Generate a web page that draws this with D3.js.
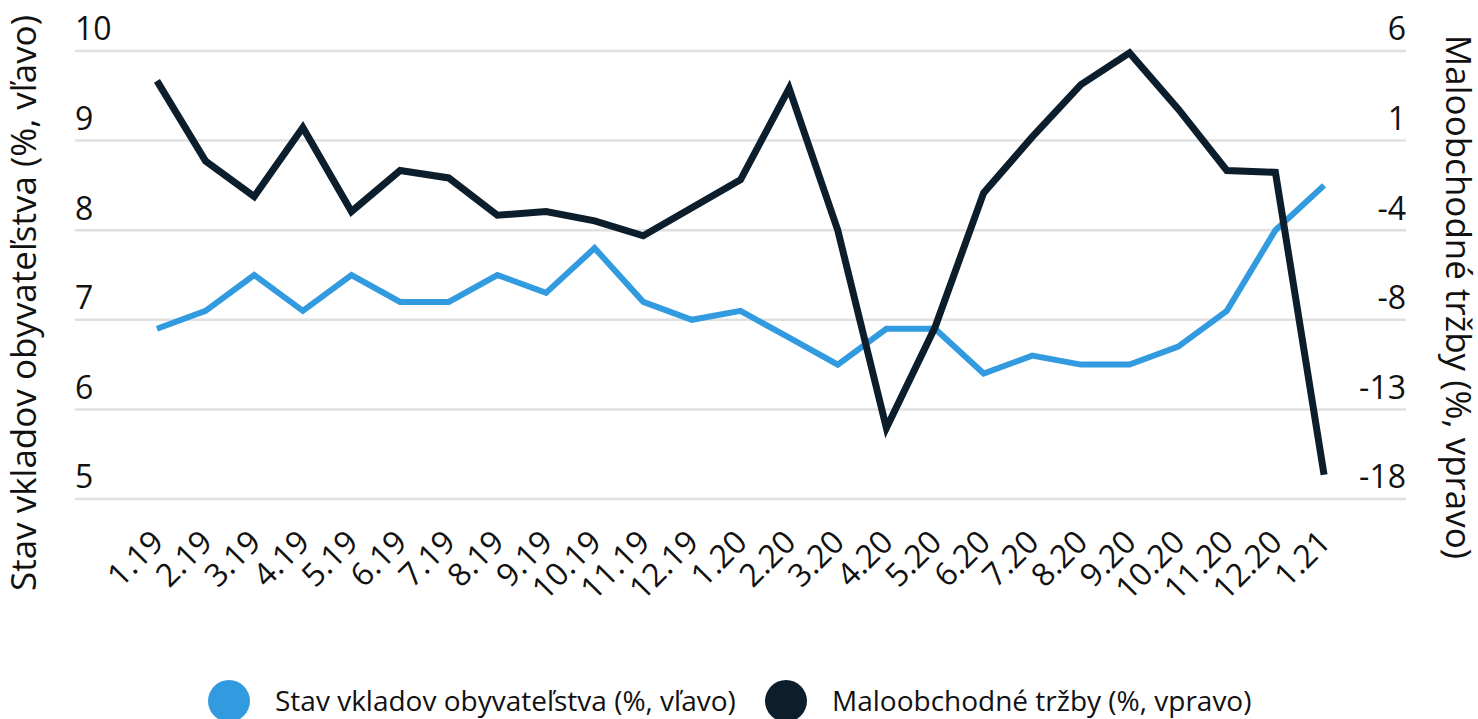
<!DOCTYPE html>
<html>
<head>
<meta charset="utf-8">
<script src="https://cdn.jsdelivr.net/npm/d3@7"></script>
<style>
  body { margin: 0; background: #fff; }
  text { font-family: "Open Sans", "Noto Sans", sans-serif; fill: #111; }
</style>
</head>
<body>
<svg id="chart" width="1478" height="719"></svg>
<script>
var months = ["1.19","2.19","3.19","4.19","5.19","6.19","7.19","8.19","9.19","10.19","11.19","12.19",
              "1.20","2.20","3.20","4.20","5.20","6.20","7.20","8.20","9.20","10.20","11.20","12.20","1.21"];
// Stav vkladov obyvatelstva (left axis)
var deposits = [6.9,7.1,7.5,7.1,7.5,7.2,7.2,7.5,7.3,7.8,7.2,7.0,
                7.1,6.8,6.5,6.9,6.9,6.4,6.6,6.5,6.5,6.7,7.1,8.0,8.5];
// Maloobchodne trzby (right axis)
var retail = [4.4,0.1,-1.8,1.9,-2.6,-0.4,-0.8,-2.8,-2.6,-3.1,-3.9,-2.4,
              -0.9,4.0,-3.6,-14.2,-8.8,-1.6,1.4,4.2,5.9,2.9,-0.4,-0.5,-16.7];
var leftTicks = [5, 6, 7, 8, 9, 10];
var leftDomain = [5, 10];
var rightDomain = [-18, 6];
var seriesNames = ["Stav vkladov obyvateľstva (%, vľavo)", "Maloobchodné tržby (%, vpravo)"];
var colors = ["#329bdf", "#0c1d2b"];

window.onload = function () {
    drawChart();
};

function drawChart() {
    var svg = d3.select("#chart"),
        plotLeft = 75, plotRight = 1406, plotTop = 51, plotBottom = 499;

    var x = d3.scalePoint()
        .domain(months)
        .range([plotLeft, plotRight])
        .padding(1.685);

    var yL = d3.scaleLinear().domain(leftDomain).range([plotBottom, plotTop]);
    var yR = d3.scaleLinear().domain(rightDomain).range([plotBottom, plotTop]);

    // gridlines
    svg.append("g")
        .selectAll("line")
        .data(leftTicks)
        .enter().append("line")
        .attr("x1", plotLeft)
        .attr("x2", plotRight)
        .attr("y1", function(d) { return yL(d); })
        .attr("y2", function(d) { return yL(d); })
        .attr("stroke", "#e0e0e0")
        .attr("stroke-width", 2.5);

    // left axis labels (sit above the gridline)
    var gl = svg.append("g")
        .attr("transform", "translate(" + plotLeft + ",0)")
        .call(d3.axisLeft(yL).tickValues(leftTicks).tickSize(0).tickFormat(d3.format("d")));
    gl.select(".domain").remove();
    gl.selectAll("text")
        .attr("x", 0)
        .attr("dy", "-0.35em")
        .attr("text-anchor", "start")
        .attr("font-size", 32)
        .attr("fill", "#111");

    // right axis labels: values at the same gridlines, plain hyphen for minus
    var rightTicks = leftTicks.map(function(t) { return yR.invert(yL(t)); });
    var gr = svg.append("g")
        .attr("transform", "translate(" + plotRight + ",0)")
        .call(d3.axisRight(yR).tickValues(rightTicks).tickSize(0)
            .tickFormat(function(d) { return String(Math.round(d)); }));
    gr.select(".domain").remove();
    gr.selectAll("text")
        .attr("x", 0)
        .attr("dy", "-0.35em")
        .attr("text-anchor", "end")
        .attr("font-size", 32)
        .attr("fill", "#111");

    // x axis
    var gx = svg.append("g")
        .attr("transform", "translate(0," + plotBottom + ")")
        .call(d3.axisBottom(x).tickSize(0));
    gx.select(".domain").remove();
    gx.selectAll("text")
        .attr("font-size", 32)
        .attr("fill", "#111")
        .attr("text-anchor", "end")
        .attr("y", 0)
        .attr("dy", 0)
        .attr("transform", "translate(8,45) rotate(-45)");

    // lines
    var lineL = d3.line()
        .x(function(d, i) { return x(months[i]); })
        .y(function(d) { return yL(d); });
    var lineR = d3.line()
        .x(function(d, i) { return x(months[i]); })
        .y(function(d) { return yR(d); });

    svg.append("path")
        .datum(deposits)
        .attr("fill", "none")
        .attr("stroke", colors[0])
        .attr("stroke-width", 6)
        .attr("stroke-linejoin", "miter")
        .attr("d", lineL);

    svg.append("path")
        .datum(retail)
        .attr("fill", "none")
        .attr("stroke", colors[1])
        .attr("stroke-width", 7)
        .attr("stroke-linejoin", "miter")
        .attr("d", lineR);

    // axis titles
    svg.append("text")
        .attr("transform", "translate(36,303) rotate(-90)")
        .attr("text-anchor", "middle")
        .attr("font-size", 35)
        .text(seriesNames[0]);

    svg.append("text")
        .attr("transform", "translate(1446,297) rotate(90)")
        .attr("text-anchor", "middle")
        .attr("font-size", 35)
        .text(seriesNames[1]);

    // legend
    var legendPos = [229, 786];
    var legend = svg.append("g")
        .selectAll("g")
        .data(seriesNames)
        .enter().append("g")
        .attr("transform", function(d, i) { return "translate(" + legendPos[i] + ",701)"; });

    legend.append("circle")
        .attr("r", 21)
        .attr("fill", function(d, i) { return colors[i]; });

    legend.append("text")
        .attr("x", 46)
        .attr("y", 10)
        .attr("font-size", 28)
        .text(function(d) { return d; });
}
</script>
</body>
</html>
